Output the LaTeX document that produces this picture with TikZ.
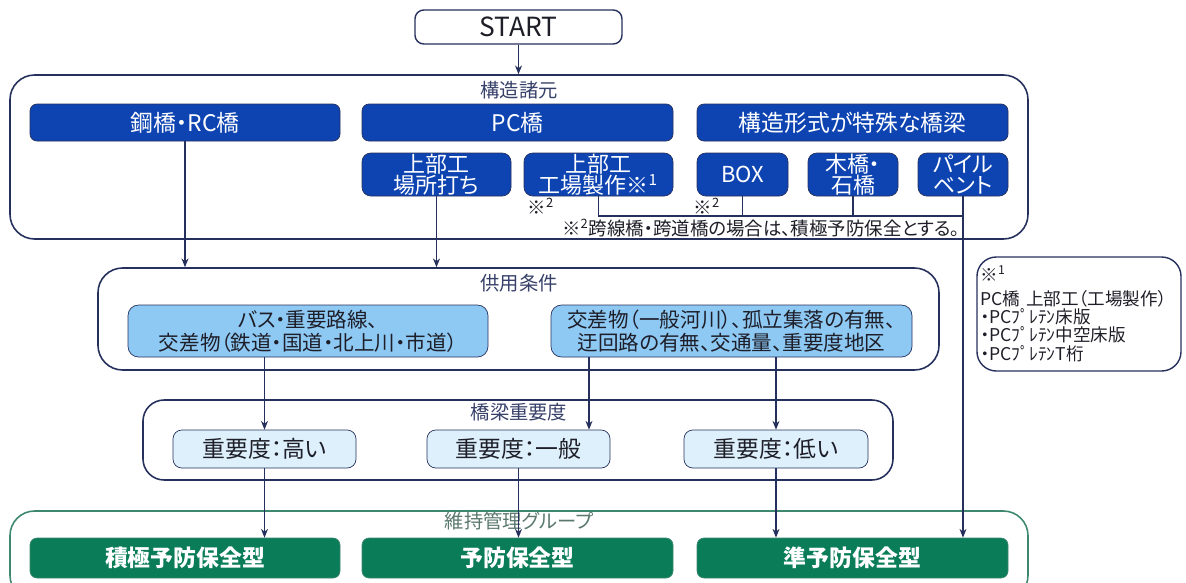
\documentclass[tikz,border=0pt]{standalone}
\usepackage{fontspec}
\setmainfont{Noto Sans CJK JP}[RawFeature=+palt]
\usetikzlibrary{arrows.meta}
\definecolor{navy}{RGB}{38,48,92}
\definecolor{bridgeblue}{RGB}{14,68,178}
\definecolor{condblue}{RGB}{142,201,244}
\definecolor{levelblue}{RGB}{221,240,252}
\definecolor{keepgreen}{RGB}{10,125,88}
\definecolor{framegreen}{RGB}{62,135,112}
\definecolor{labelnavy}{RGB}{55,64,105}
\definecolor{labelgreen}{RGB}{90,120,110}
\definecolor{inktext}{RGB}{30,30,40}
\tikzset{
  frame/.style={draw=navy, line width=0.9pt, rounded corners=14pt, inner sep=0pt},
  framelabel/.style={text=labelnavy, font=\fontsize{11}{12}\selectfont, inner sep=0pt},
  startbox/.style={draw=navy, line width=0.8pt, fill=white, rounded corners=5pt,
    minimum width=4.14cm, minimum height=0.68cm, inner sep=0pt,
    text=inktext, font=\fontsize{15}{16}\selectfont},
  bigbox/.style={draw=navy, fill=bridgeblue, text=white, rounded corners=4pt,
    minimum width=6.2cm, minimum height=0.74cm, inner sep=0pt,
    font=\fontsize{13}{14}\selectfont},
  subbox/.style={draw=navy, fill=bridgeblue, text=white, rounded corners=5pt,
    minimum width=2.98cm, minimum height=0.86cm, inner sep=0pt, align=center,
    font=\fontsize{12.5}{12}\selectfont},
  condbox/.style={draw=navy, fill=condblue, text=inktext, rounded corners=6pt,
    minimum width=7.2cm, minimum height=1.04cm, inner sep=0pt, align=center,
    font=\fontsize{11.7}{13}\selectfont},
  levelbox/.style={draw=navy, fill=levelblue, text=inktext, rounded corners=5pt,
    minimum width=3.66cm, minimum height=0.76cm, inner sep=0pt,
    font=\fontsize{13}{14}\selectfont},
  keepbox/.style={draw=framegreen, fill=keepgreen, text=white, rounded corners=4pt,
    minimum width=6.2cm, minimum height=0.8cm, inner sep=0pt,
    font=\bfseries\fontsize{13}{14}\selectfont},
  marktext/.style={text=inktext, font=\fontsize{10.5}{11}\selectfont, inner sep=0pt},
  link/.style={draw=navy, line width=0.6pt},
  flow/.style={link, -{Stealth[length=5pt,width=4pt]}},
}
\newcommand{\kome}[1]{※\textsuperscript{#1}}

\begin{document}
\begin{tikzpicture}
  \useasboundingbox (0,0) rectangle (23.72,-11.66);

  % start
  \node[startbox] (start) at (10.37,-0.54) {START};

  % structure frame
  \node[frame, minimum width=20.36cm, minimum height=3.28cm] (struct) at (10.38,-3.14) {};
  \node[framelabel] (structlbl) at (10.38,-1.80) {構造諸元};
  \node[bigbox] (steel) at (3.70,-2.45) {鋼橋・RC橋};
  \node[bigbox, minimum width=6.22cm] (pc) at (10.35,-2.45) {PC橋};
  \node[bigbox, minimum width=6.22cm] (special) at (17.05,-2.45) {構造形式が特殊な橋梁};
  \node[subbox] (pcsite) at (8.73,-3.49) {上部工\\場所打ち};
  \node[subbox] (pcfact) at (11.97,-3.49) {上部工\\工場製作\kome{1}};
  \node[subbox, minimum width=1.82cm] (box) at (14.85,-3.49) {BOX};
  \node[subbox, minimum width=1.80cm] (wood) at (17.06,-3.49) {木橋・\\石橋};
  \node[subbox, minimum width=1.80cm] (pile) at (19.26,-3.49) {パイル\\ベント};
  \node[marktext] (markfact) at (10.82,-4.12) {\kome{2}};
  \node[marktext] (markbox) at (14.14,-4.12) {\kome{2}};
  \node[marktext] (note2) at (15.22,-4.56) {\kome{2}跨線橋・跨道橋の場合は、積極予防保全とする。};

  % joint of special types
  \coordinate (joint) at (19.26,-4.32);
  \draw[link] (pcfact.south) |- (joint);
  \draw[link] (box.south) -- (box.south |- joint);
  \draw[link] (wood.south) -- (wood.south |- joint);
  \draw[flow] (start.south) -- (start.south |- struct.north);

  % service condition frame
  \node[frame, minimum width=16.82cm, minimum height=2.04cm] (use) at (10.37,-6.38) {};
  \node[framelabel] (uselbl) at (10.38,-5.66) {供用条件};
  \node[condbox] (bus) at (6.16,-6.62) {バス・重要路線、\\交差物（鉄道・国道・北上川・市道）};
  \node[condbox, minimum width=7.22cm] (river) at (14.63,-6.62) {交差物（一般河川）、孤立集落の有無、\\迂回路の有無、交通量、重要度地区};
  \draw[flow] (steel.south) -- (steel.south |- use.north);
  \draw[flow] (pcsite.south) -- (pcsite.south |- use.north);

  % importance frame
  \node[frame, minimum width=15.0cm, minimum height=1.6cm, rounded corners=12pt] (imp) at (10.36,-8.80) {};
  \node[framelabel] (implbl) at (10.38,-8.24) {橋梁重要度};
  \node[levelbox] (high) at (5.29,-8.98) {重要度：高い};
  \node[levelbox] (mid) at (10.37,-8.98) {重要度：一般};
  \node[levelbox, minimum width=3.68cm] (low) at (15.52,-8.98) {重要度：低い};
  \coordinate (riverleft) at (11.78,-7.14);
  \draw[flow] (high.north |- bus.south) -- (high.north);
  \draw[flow] (riverleft) -- (riverleft |- mid.north);
  \draw[flow] (low.north |- river.south) -- (low.north);

  % maintenance group frame
  \node[frame, draw=framegreen, minimum width=20.36cm, minimum height=1.78cm] (grp) at (10.38,-11.11) {};
  \node[framelabel, text=labelgreen] (grplbl) at (10.38,-10.42) {維持管理グループ};
  \node[keepbox] (active) at (3.70,-11.16) {積極予防保全型};
  \node[keepbox, minimum width=6.22cm] (prev) at (10.35,-11.16) {予防保全型};
  \node[keepbox, minimum width=6.22cm] (semi) at (17.05,-11.16) {準予防保全型};
  \draw[flow] (high.south) -- (high.south |- active.north);
  \draw[flow] (mid.south) -- (mid.south |- prev.north);
  \draw[flow] (low.south) -- (low.south |- semi.north);
  \draw[flow] (pile.south) -- (pile.south |- semi.north);

  % note 1
  \node[draw=navy, line width=0.8pt, rounded corners=11pt, minimum width=4.08cm,
    minimum height=2.28cm, inner xsep=2pt, text width=3.94cm, align=left,
    text=inktext, font=\fontsize{10}{10.5}\selectfont] (note1) at (21.58,-6.28)
    {\kome{1}\\[3pt]PC橋 上部工（工場製作）\\・PCﾌﾟﾚﾃﾝ床版\\・PCﾌﾟﾚﾃﾝ中空床版\\・PCﾌﾟﾚﾃﾝT桁};
\end{tikzpicture}
\end{document}
